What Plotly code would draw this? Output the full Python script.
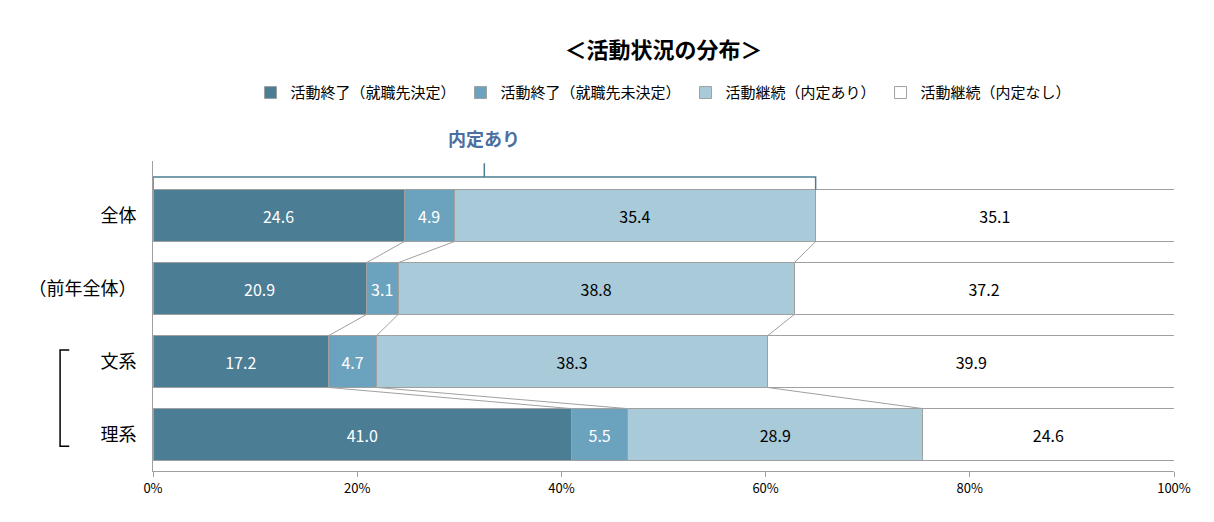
import plotly.graph_objects as go

groups = ["全体", "（前年全体）", "文系", "理系"]
series = ["活動終了（就職先決定）", "活動終了（就職先未決定）", "活動継続（内定あり）", "活動継続（内定なし）"]
values = [
    [24.6, 20.9, 17.2, 41.0],
    [4.9, 3.1, 4.7, 5.5],
    [35.4, 38.8, 38.3, 28.9],
    [35.1, 37.2, 39.9, 24.6],
]
xticks = [0, 20, 40, 60, 80, 100]
colors = ["#4b7d95", "#6ba3bf", "#a8cad9", "#ffffff"]
text_colors = ["white", "white", "black", "black"]
font = "Noto Sans CJK JP"
W = 0.71

fig = go.Figure()
ypos = list(range(len(groups)))
for s, name in enumerate(series):
    fig.add_trace(go.Bar(
        y=ypos, x=values[s], name=name, orientation="h", width=W,
        marker=dict(color=colors[s], line=dict(color="#a0a0a0", width=1)),
        text=[f"{v:.1f}" for v in values[s]], textposition="inside",
        insidetextanchor="middle", textangle=0,
        textfont=dict(color=text_colors[s], size=16, family=font),
    ))

# connector lines between segment boundaries
cum = []
for g in range(len(groups)):
    c, acc = [], 0
    for s in range(3):
        acc += values[s][g]
        c.append(acc)
    cum.append(c)
for g in range(len(groups) - 1):
    for s in range(3):
        fig.add_shape(type="line", x0=cum[g][s], x1=cum[g + 1][s],
                      y0=g + W / 2, y1=g + 1 - W / 2,
                      line=dict(color="#a0a0a0", width=1))

# bracket over 内定あり
b = cum[0][2]
fig.add_shape(type="path", path=f"M 0,{-W/2} L 0,-0.53 L {b},-0.53 L {b},{-W/2}",
              line=dict(color="#4b7d95", width=1.5))
fig.add_shape(type="line", x0=b / 2, x1=b / 2, y0=-0.53, y1=-0.72,
              line=dict(color="#4b7d95", width=1.5))
fig.add_annotation(x=b / 2, xref="x", y=1.075, yref="paper", yanchor="middle",
                   text="<b>内定あり</b>", showarrow=False,
                   font=dict(size=18, color="#4a6fa0", family=font))

# bracket for 文系/理系
fig.add_shape(type="path", xref="paper", yref="y",
              path="M -0.082,1.84 L -0.091,1.84 L -0.091,3.16 L -0.082,3.16",
              line=dict(color="black", width=1.5))

fig.update_layout(
    width=1214, height=522, plot_bgcolor="white", paper_bgcolor="white",
    margin=dict(l=145, r=48, t=153, b=59),
    barmode="stack", bargap=0.29,
    font=dict(family=font, color="black"),
    title=dict(text="<b>＜活動状況の分布＞</b>", x=0.5, xref="paper",
               y=1 - 42 / 522, yref="container", yanchor="middle",
               font=dict(size=22)),
    legend=dict(orientation="h", x=0.5, xanchor="center", y=1.22, yanchor="middle",
                font=dict(size=15), traceorder="normal", itemwidth=30),
    xaxis=dict(range=[0, 100], tickvals=xticks, ticktext=[f"{t}%" for t in xticks],
               showgrid=False, showline=True, linecolor="#a0a0a0", ticks="outside",
               tickcolor="#a0a0a0", tickfont=dict(size=13), automargin=False),
    yaxis=dict(range=[3.5, -0.75], tickvals=ypos, ticktext=groups, showgrid=False,
               showline=True, linecolor="#a0a0a0", tickfont=dict(size=18),
               ticklabelstandoff=12, zeroline=False, automargin=False),
)
fig.write_html("out.html")
